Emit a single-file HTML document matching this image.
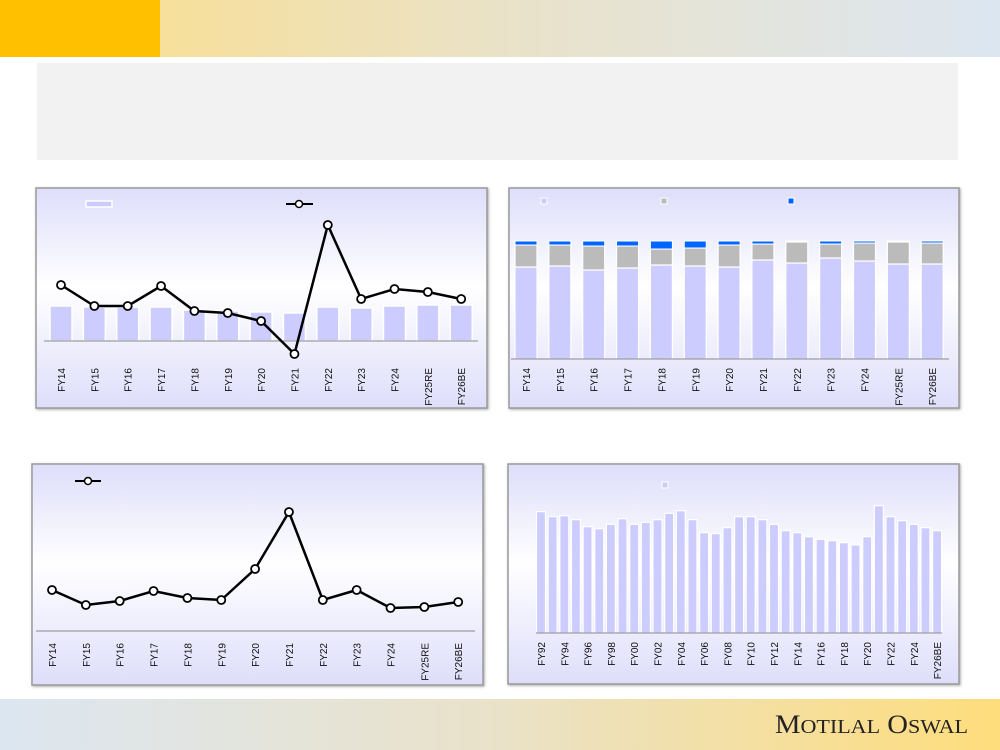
<!DOCTYPE html>
<html><head><meta charset="utf-8"><style>
html,body{margin:0;padding:0;width:1000px;height:750px;overflow:hidden;background:#fff;font-family:"Liberation Sans",sans-serif}
svg{position:absolute;left:0;top:0}
</style></head><body>
<svg id="s" width="1000" height="750" xmlns="http://www.w3.org/2000/svg">
<defs>
<linearGradient id="hdr" x1="0" x2="1"><stop offset="0" stop-color="#FDDF85"/><stop offset="0.5" stop-color="#EAE2C8"/><stop offset="1" stop-color="#DCE6F1"/></linearGradient>
<linearGradient id="ftr" x1="0" x2="1"><stop offset="0" stop-color="#DCE6F1"/><stop offset="0.5" stop-color="#EAE2C8"/><stop offset="1" stop-color="#FEDD7C"/></linearGradient>
<linearGradient id="pan" x1="0" y1="0" x2="0" y2="1"><stop offset="0" stop-color="#DEDEFB"/><stop offset="0.45" stop-color="#FFFFFF"/><stop offset="1" stop-color="#DEDEFB"/></linearGradient>
<filter id="sh" x="-5%" y="-5%" width="110%" height="115%"><feDropShadow dx="1" dy="1" stdDeviation="1.2" flood-color="#555" flood-opacity="0.5"/></filter>
</defs>
<rect x="0" y="0" width="1000" height="57" fill="url(#hdr)"/>
<rect x="0" y="0" width="160" height="57" fill="#FFC000"/>
<rect x="37" y="63" width="921" height="97" fill="#F2F2F2"/>
<rect x="0" y="699" width="1000" height="51" fill="url(#ftr)"/>
<text x="968" y="733" text-anchor="end" font-family="Liberation Serif,serif" font-size="26" fill="#222" textLength="193" lengthAdjust="spacingAndGlyphs">M<tspan font-size="20">OTILAL</tspan> O<tspan font-size="20">SWAL</tspan></text>
<g id="g"></g>
</svg>
<script>
const g=document.getElementById('g');let h='';
function panel(x,y,w,hh){h+=`<rect x="${x}" y="${y}" width="${w}" height="${hh}" fill="url(#pan)" stroke="#9a9a9a" stroke-width="1.5" filter="url(#sh)"/>`;}
function lab(x,y,t){h+=`<text transform="translate(${x+4},${y}) rotate(-90)" text-anchor="end" font-size="10" fill="#111">${t}</text>`;}
const fy=['FY14','FY15','FY16','FY17','FY18','FY19','FY20','FY21','FY22','FY23','FY24','FY25RE','FY26BE'];
panel(36,188,451,220);
h+=`<rect x="86" y="201" width="26" height="6" fill="#CCCCFF" stroke="#fff" stroke-width="1.5"/>`;
h+=`<line x1="286" y1="204" x2="313" y2="204" stroke="#000" stroke-width="2"/><circle cx="299" cy="204" r="3.5" fill="#fff" stroke="#000" stroke-width="1.5"/>`;
const t1=[306,307,307,307,310,311,312,313,307,308,306,305,305];
const l1=[285,306,306,286,311,313,321,354,225,299,289,292,299];
let pts=[];
for(let i=0;i<13;i++){const cx=61+i*33.35;h+=`<rect x="${cx-11}" y="${t1[i]}" width="22" height="${341-t1[i]}" fill="#CCCCFF" stroke="#fff" stroke-width="1.5"/>`;lab(cx,368,fy[i]);pts.push(cx+','+l1[i]);}
h+=`<line x1="44" y1="341" x2="478" y2="341" stroke="#888"/>`;
h+=`<polyline points="${pts.join(' ')}" fill="none" stroke="#000" stroke-width="2.5"/>`;
pts.forEach(p=>{const [a,b]=p.split(',');h+=`<circle cx="${a}" cy="${b}" r="4" fill="#fff" stroke="#000" stroke-width="1.8"/>`;});
panel(509,188,450,220);
h+=`<rect x="541" y="198" width="6" height="6" fill="#CCCCFF" stroke="#fff"/><rect x="661" y="198" width="6" height="6" fill="#BBBBBB" stroke="#fff"/><rect x="788" y="198" width="6" height="6" fill="#0066FF" stroke="#fff"/>`;
const b2=[245,245,246,246,249,248,245,244,242,244,243,242,243];
const g2=[267,266,270,268,265,266,267,260,263,258,261,264,264];
for(let i=0;i<13;i++){const cx=526+i*33.85;const x=cx-11;
h+=`<rect x="${x}" y="${g2[i]}" width="22" height="${359-g2[i]}" fill="#CCCCFF" stroke="#fff" stroke-width="1.2"/>`;
h+=`<rect x="${x}" y="${b2[i]}" width="22" height="${g2[i]-b2[i]}" fill="#BBBBBB" stroke="#fff" stroke-width="1.2"/>`;
h+=`<rect x="${x}" y="241" width="22" height="${b2[i]-241}" fill="#0066FF" stroke="#fff" stroke-width="1"/>`;
lab(cx,368,fy[i]);}
h+=`<line x1="511" y1="359" x2="949" y2="359" stroke="#888"/>`;
panel(32,464,451,221);
h+=`<line x1="75" y1="481" x2="101" y2="481" stroke="#000" stroke-width="2"/><circle cx="88" cy="481" r="3.5" fill="#fff" stroke="#000" stroke-width="1.5"/>`;
const l3=[590,605,601,591,598,600,569,512,600,590,608,607,602];pts=[];
for(let i=0;i<13;i++){const cx=52+i*33.85;lab(cx,643,fy[i]);pts.push(cx+','+l3[i]);}
h+=`<line x1="36" y1="631" x2="475" y2="631" stroke="#888"/>`;
h+=`<polyline points="${pts.join(' ')}" fill="none" stroke="#000" stroke-width="2.5"/>`;
pts.forEach(p=>{const [a,b]=p.split(',');h+=`<circle cx="${a}" cy="${b}" r="4" fill="#fff" stroke="#000" stroke-width="1.8"/>`;});
panel(508,464,451,220);
h+=`<rect x="662" y="482" width="6" height="6" fill="#CCCCFF" stroke="#fff"/>`;
const v4=[155,170,167,179,200,206,193,176,193,187,179,160,152,179,218,221,203,170,170,179,193,212,218,230,238,242,248,255,230,137,170,182,193,203,212];
const n4=['FY92','FY94','FY96','FY98','FY00','FY02','FY04','FY06','FY08','FY10','FY12','FY14','FY16','FY18','FY20','FY22','FY24','FY26BE'];
for(let i=0;i<35;i++){const cx=541+i*11.65;const top=460+v4[i]/3;
h+=`<rect x="${cx-4.5}" y="${top}" width="9" height="${633-top}" fill="#CCCCFF" stroke="#fff" stroke-width="1.2"/>`;
if(i%2==0)lab(cx,642,n4[i/2]);}
h+=`<line x1="536" y1="633" x2="942" y2="633" stroke="#888"/>`;
g.innerHTML=h;
</script>
</body></html>
